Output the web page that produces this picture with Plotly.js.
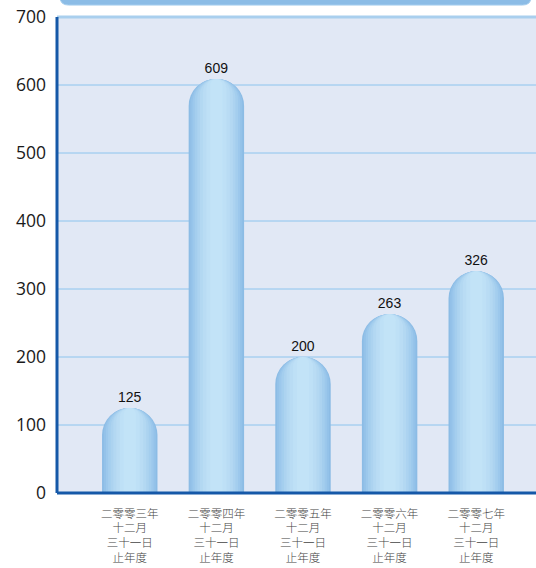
<!DOCTYPE html>
<html><head><meta charset="utf-8">
<script src="https://cdn.plot.ly/plotly-3.0.1.min.js"></script>
<style>html,body{margin:0;padding:0;background:#fff;}#c{width:536px;height:568px;}</style>
</head><body><div id="c"></div>
<script>
const categories = ['二零零三年<br>十二月<br>三十一日<br>止年度','二零零四年<br>十二月<br>三十一日<br>止年度','二零零五年<br>十二月<br>三十一日<br>止年度','二零零六年<br>十二月<br>三十一日<br>止年度','二零零七年<br>十二月<br>三十一日<br>止年度'];
const values = [125, 609, 200, 263, 326];
const yTicks = [0,100,200,300,400,500,600,700];

const layers = [
  {w:0.64, c:'#8cbce5'},
  {w:0.60, c:'#94c2e9'},
  {w:0.55, c:'#9cc8ec'},
  {w:0.50, c:'#a4ceee'},
  {w:0.44, c:'#acd3f0'},
  {w:0.38, c:'#b3d8f2'},
  {w:0.31, c:'#b9dcf4'},
  {w:0.23, c:'#bee0f6'},
  {w:0.14, c:'#c2e3f7'}
];
const traces = layers.map((l,i)=>({
  type:'bar', x:categories, y:values, width:l.w,
  marker:{color:l.c, cornerradius:'50%', line:{width:0}},
  hoverinfo:'skip',
  text: i===0 ? values.map(String) : undefined,
  textposition: i===0 ? 'outside' : 'none',
  textfont:{family:'Liberation Sans, Arial, sans-serif', size:14, color:'#111'},
  cliponaxis:false
}));

const gridShapes = yTicks.filter(v => v > 0 && v < 700).map(v => ({
  type:'line', xref:'paper', yref:'y', x0:0, x1:1, y0:v, y1:v, layer:'below',
  line:{color:'#8cc4ee', width:1}
}));

const x0=0.006, x1=0.99, yb=1.025, yt=1.2, rx=0.018, ry=0.018;
const layout = {
  width:536, height:568,
  margin:{l:57, r:0, t:17, b:75},
  paper_bgcolor:'#ffffff', plot_bgcolor:'#e1e8f5',
  barmode:'overlay', showlegend:false,
  xaxis:{type:'category', range:[-0.84,4.69], showgrid:false, zeroline:false,
    showline:false, ticks:'', ticklabelstandoff:12,
    tickfont:{family:'Noto Sans CJK SC, sans-serif', size:11.5, color:'#444', weight:300}},
  yaxis:{range:[0,700], tickvals:yTicks, ticktext:yTicks.map(String),
    showgrid:false, zeroline:false,
    showline:false, ticks:'', ticklabelstandoff:10,
    tickfont:{family:'Open Sans, sans-serif', size:17.5, color:'#1a1a1a'}},
  shapes: gridShapes.concat([
    {type:'line', xref:'paper', yref:'paper', x0:0, x1:1, y0:1, y1:1, line:{color:'#a9cfee', width:3}},
    {type:'line', xref:'paper', yref:'paper', x0:0, x1:0, y0:0, y1:1, line:{color:'#1558a8', width:3}},
    {type:'line', xref:'paper', yref:'paper', x0:0, x1:1, y0:0, y1:0, line:{color:'#1558a8', width:3}},
    {type:'path', xref:'paper', yref:'paper',
      path:`M ${x0},${yt} L ${x0},${yb+ry} Q ${x0},${yb} ${x0+rx},${yb} L ${x1-rx},${yb} Q ${x1},${yb} ${x1},${yb+ry} L ${x1},${yt} Z`,
      fillcolor:'#8bbce6', line:{color:'#a9d0ef', width:1}}
  ])
};
Plotly.newPlot('c', traces, layout, {displayModeBar:false, staticPlot:true});
</script></body></html>
